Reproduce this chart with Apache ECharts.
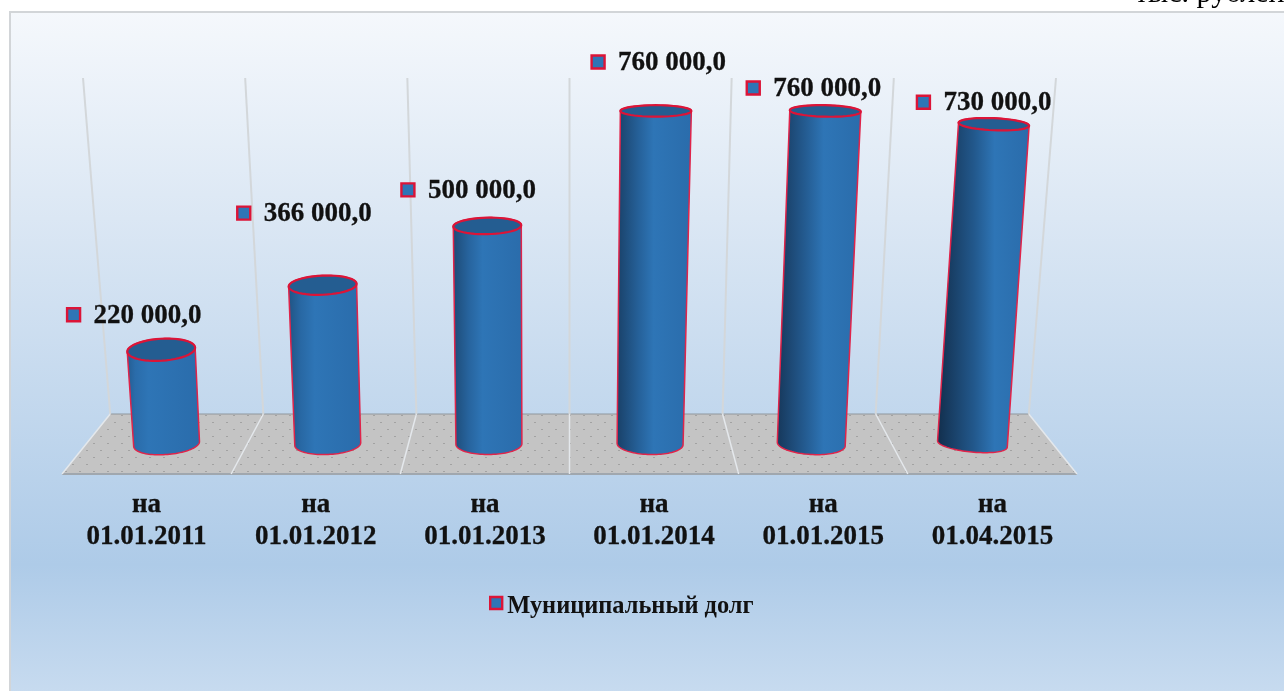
<!DOCTYPE html>
<html>
<head>
<meta charset="utf-8">
<style>
  html, body { margin: 0; padding: 0; background: #fff; overflow: hidden; }
  #chart { width: 1284px; height: 691px; }
</style>
<script src="https://cdn.jsdelivr.net/npm/echarts@6/dist/echarts.min.js"></script>
</head>
<body>
<div id="chart"></div>
<script>
const categories = ['на\n01.01.2011', 'на\n01.01.2012', 'на\n01.01.2013', 'на\n01.01.2014', 'на\n01.01.2015', 'на\n01.04.2015'];
const debtValues = [220000, 366000, 500000, 760000, 760000, 730000];
const seriesName = 'Муниципальный долг';
const unitText = 'тыс. рублей';

// ручное размещение подписей относительно столбца
const labelDx = [-73, -72, -77, -56, -70, -69];
const labelDy = [-35, -72, -36, -49, -23, -22];

const AXIS_MAX = 830000;
const SERIF = '"Liberation Serif", "Times New Roman", serif';
const RED = '#dc1437';
const BLUE = '#2e75b6';

// точечная заливка пола
function floorPattern() {
  const c = document.createElement('canvas');
  c.width = 14; c.height = 14;
  const g = c.getContext('2d');
  g.fillStyle = '#c4c4c4';
  g.fillRect(0, 0, 14, 14);
  g.fillStyle = '#a2a2a2';
  g.fillRect(2, 2, 2, 1);
  g.fillRect(9, 9, 2, 1);
  return c;
}

function renderStage(params, api) {
  const band = api.size([1, 0])[0];
  const y0 = api.coord([0, 0])[1];
  const yTop = api.coord([0, AXIS_MAX])[1] - 2;
  const left = api.coord([0, 0])[0] - band / 2;
  const n = categories.length;
  const pivot = left + band * 3;
  const yBack = y0 - 33;
  const yFront = y0 + 27;
  const at = (k, s) => pivot + (left + band * k - pivot) * s;
  const children = [];
  children.push({
    type: 'polygon',
    shape: { points: [[at(0, 0.905), yBack], [at(n, 0.905), yBack], [at(n, 1), yFront], [at(0, 1), yFront]] },
    style: { fill: { image: floorPattern(), repeat: 'repeat' } }
  });
  children.push({ type: 'line', shape: { x1: at(0, 0.905), y1: yBack, x2: at(n, 0.905), y2: yBack }, style: { stroke: '#8f969c', lineWidth: 1 } });
  children.push({ type: 'line', shape: { x1: at(0, 1), y1: yFront, x2: at(n, 1), y2: yFront }, style: { stroke: '#a0a7ae', lineWidth: 2 } });
  for (let k = 0; k <= n; k++) {
    children.push({ type: 'line', shape: { x1: at(k, 0.9586), y1: yTop, x2: at(k, 0.905), y2: yBack }, style: { stroke: '#d3d7da', lineWidth: 2 } });
    children.push({ type: 'line', shape: { x1: at(k, 0.905), y1: yBack, x2: at(k, 1), y2: yFront }, style: { stroke: '#e4e8ec', lineWidth: 1.5 } });
  }
  return { type: 'group', children: children };
}

function ellipsePoints(cx, cy, rx, ry, deg, from, to) {
  const r = deg * Math.PI / 180;
  const pts = [];
  for (let i = 0; i <= 48; i++) {
    const t = from + (to - from) * i / 48;
    const ex = rx * Math.cos(t), ey = ry * Math.sin(t);
    pts.push([cx + ex * Math.cos(r) - ey * Math.sin(r), cy + ex * Math.sin(r) + ey * Math.cos(r)]);
  }
  return pts;
}

function mixColor(a, b, t) {
  const m = (s, e) => Math.round(s + (e - s) * t);
  return 'rgb(' + m(a[0], b[0]) + ',' + m(a[1], b[1]) + ',' + m(a[2], b[2]) + ')';
}

function renderCylinder(params, api) {
  const i = api.value(0);
  const v = api.value(1);
  const band = api.size([1, 0])[0];
  const xc = api.coord([i, 0])[0];
  const pivot = api.coord([3, 0])[0] - band / 2;
  const y0 = api.coord([i, 0])[1];
  const yT = api.coord([i, v])[1];
  const yB = y0 - 3;
  const h = yB - yT;

  // перспектива: основание сжато к центру, верх отклоняется наружу
  const xb = pivot + (xc - pivot) * 0.9527;
  const xt = xb + (xb - (pivot - 32)) * 1.54e-4 * h;
  const wb = 66 + Math.max(0, xb - 650) * 0.0124;
  const wt = 68 + Math.max(0, h - 218) * 0.026;
  const tiltT = (xt - 654) * 0.0075;
  const tiltB = (xb - 540) * 0.0125;
  const hT = 10 + (yT - 100) * 0.044 + 1;
  const hB = 21 - Math.max(0, xb - 811) * 0.03;

  const t = (xb - 167) / 805;
  const side = [].concat(
    ellipsePoints(xt, yT, wt / 2, hT / 2, tiltT, Math.PI, 2 * Math.PI),
    ellipsePoints(xb, yB, wb / 2, hB / 2, tiltB, 0, Math.PI)
  );
  const sideFill = new echarts.graphic.LinearGradient(0, 0, 1, 0, [
    { offset: 0, color: mixColor([36, 92, 144], [18, 46, 76], t) },
    { offset: 0.12 + 0.28 * t, color: mixColor([42, 108, 170], [34, 88, 140], t) },
    { offset: 0.3 + 0.32 * t, color: BLUE },
    { offset: 1, color: '#2a6cab' }
  ]);
  const mx = xc + labelDx[i];
  const my = yT + labelDy[i];
  return {
    type: 'group',
    children: [
      { type: 'polygon', shape: { points: side }, style: { fill: sideFill, stroke: '#e0244a', lineWidth: 1.5 } },
      { type: 'polygon', shape: { points: ellipsePoints(xt, yT, wt / 2, hT / 2, tiltT, 0, 2 * Math.PI) },
        style: { fill: '#245d91', stroke: RED, lineWidth: 2.2 } },
      { type: 'rect', shape: { x: mx - 6.5, y: my - 6.5, width: 13, height: 13 },
        style: { fill: BLUE, stroke: RED, lineWidth: 2.4 } },
      { type: 'text', x: mx + 20, y: my + 1,
        style: { text: formatValue(v), font: 'bold 27px ' + SERIF, fill: '#111', stroke: '#111', lineWidth: 0.3, textAlign: 'left', textVerticalAlign: 'middle' } }
    ]
  };
}

function formatValue(v) {
  return String(v).replace(/\B(?=(\d{3})+$)/g, ' ') + ',0';
}

const chart = echarts.init(document.getElementById('chart'));
chart.setOption({
  animation: false,
  backgroundColor: '#fff',
  title: {
    text: unitText, left: 1130, top: -26,
    textStyle: { fontFamily: SERIF, fontSize: 30, fontWeight: 'normal', color: '#000' }
  },
  graphic: [{
    type: 'rect', z: -10, silent: true,
    shape: { x: 10, y: 12, width: 1280, height: 690 },
    style: {
      stroke: '#d2d5d8', lineWidth: 2,
      fill: new echarts.graphic.LinearGradient(0, 0, 0, 1, [
        { offset: 0, color: '#f5f8fc' },
        { offset: 0.3, color: '#dbe7f4' },
        { offset: 0.8, color: '#aecbe8' },
        { offset: 1, color: '#c9dcf0' }
      ])
    }
  }],
  legend: {
    left: 484, top: 590, itemWidth: 12, itemHeight: 12, itemGap: 5,
    data: [{ name: seriesName, icon: 'rect', itemStyle: { color: BLUE, borderColor: RED, borderWidth: 2.4 } }],
    formatter: '{t|{name}}',
    textStyle: {
      rich: { t: { fontFamily: SERIF, fontSize: 24.4, fontWeight: 'bold', color: '#111', padding: [8, 0, 0, 0] } }
    }
  },
  grid: { left: 62, top: 80, width: 1015, height: 367 },
  xAxis: {
    type: 'category', data: categories,
    axisLine: { show: false }, axisTick: { show: false }, splitLine: { show: false },
    axisLabel: { interval: 0, margin: 42, fontFamily: SERIF, fontSize: 27, fontWeight: 'bold', color: '#111', lineHeight: 32, textBorderColor: '#111', textBorderWidth: 0.3 }
  },
  yAxis: { type: 'value', min: 0, max: AXIS_MAX, show: false },
  series: [
    { type: 'custom', name: 'stage', silent: true, z: 1, data: [[0, 0]], renderItem: renderStage, encode: { x: 0, y: 1 } },
    { type: 'custom', name: seriesName, silent: true, z: 2, itemStyle: { color: BLUE },
      data: debtValues.map((v, i) => [i, v]), renderItem: renderCylinder, encode: { x: 0, y: 1 } }
  ]
});
</script>
</body>
</html>
